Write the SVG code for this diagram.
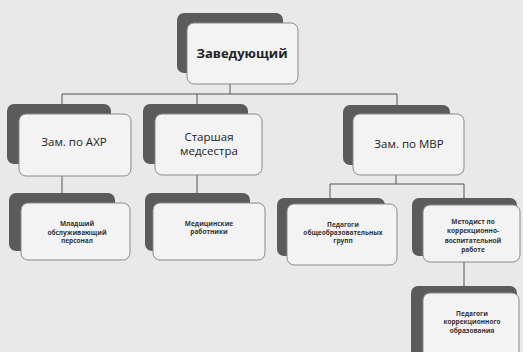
<svg xmlns="http://www.w3.org/2000/svg" width="523" height="352" viewBox="0 0 523 352">
<style>
.bg{fill:#e9e9e9}
.sh{fill:#5b5b5b}
.fr{fill:#f3f3f3;stroke:#8a8a8a;stroke-width:1}
.t{font-family:"Open Sans","Liberation Sans",sans-serif;fill:#222;text-anchor:middle}
.big{font-size:13px;font-weight:bold}
.mid{font-size:11.5px}
.sm{font-size:6.5px;font-weight:bold;fill:#333}
.cn{fill:none;stroke:#555;stroke-width:1}
</style>
<rect class="bg" x="0" y="0" width="523" height="352"/>
<g id="connectors">
<path class="cn" d="M230,84V94M62,94H397M62,94V104M197,94V104M397,94V105"/>
<path class="cn" d="M62,176V193M197,175V193"/>
<path class="cn" d="M396,175V184M330,184H464M330,184V198M464,184V198"/>
<path class="cn" d="M464,262V286"/>
</g>
<g id="n_head">
<rect class="sh" x="177" y="13" width="106" height="60" rx="7"/>
<rect class="fr" x="187" y="23" width="111" height="61" rx="7"/>
<text class="t big" x="242" y="58">Заведующий</text>
</g>
<g id="n_axp">
<rect class="sh" x="7" y="104" width="104" height="60" rx="7"/>
<rect class="fr" x="19" y="114" width="112" height="62" rx="7"/>
<text class="t mid" x="74" y="146">Зам. по АХР</text>
</g>
<g id="n_nurse">
<rect class="sh" x="143" y="104" width="105" height="60" rx="7"/>
<rect class="fr" x="155" y="114" width="107" height="61" rx="7"/>
<text class="t mid" x="209" y="141">Старшая</text>
<text class="t mid" x="209" y="154.5">медсестра</text>
</g>
<g id="n_mvr">
<rect class="sh" x="343" y="105" width="107" height="60" rx="7"/>
<rect class="fr" x="353" y="114" width="111" height="61" rx="7"/>
<text class="t mid" x="409" y="148">Зам. по  МВР</text>
</g>
<g id="n_junior">
<rect class="sh" x="9" y="193" width="106" height="58" rx="7"/>
<rect class="fr" x="21" y="203" width="109" height="57" rx="7"/>
<text class="t sm" x="77" y="226">Младший</text>
<text class="t sm" x="77" y="234.5">обслуживающий</text>
<text class="t sm" x="77" y="243">персонал</text>
</g>
<g id="n_medw">
<rect class="sh" x="145" y="193" width="105" height="58" rx="7"/>
<rect class="fr" x="153" y="203" width="112" height="57" rx="7"/>
<text class="t sm" x="209" y="225.5">Медицинские</text>
<text class="t sm" x="209" y="234">работники</text>
</g>
<g id="n_ped">
<rect class="sh" x="277" y="198" width="108" height="58" rx="7"/>
<rect class="fr" x="287" y="204" width="110" height="61" rx="7"/>
<text class="t sm" x="343" y="226.5">Педагоги</text>
<text class="t sm" x="343" y="234.5">общеобразовательных</text>
<text class="t sm" x="343" y="242.5">групп</text>
</g>
<g id="n_met">
<rect class="sh" x="412" y="198" width="105" height="58" rx="7"/>
<rect class="fr" x="423" y="205" width="97" height="57" rx="7"/>
<text class="t sm" x="473" y="223.5">Методист по</text>
<text class="t sm" x="473" y="233">коррекционно-</text>
<text class="t sm" x="473" y="242.5">воспитательной</text>
<text class="t sm" x="473" y="252">работе</text>
</g>
<g id="n_pedk">
<rect class="sh" x="411" y="286" width="106" height="72" rx="7"/>
<rect class="fr" x="423" y="293" width="96" height="66" rx="7"/>
<text class="t sm" x="472" y="315.5">Педагоги</text>
<text class="t sm" x="472" y="324">коррекционного</text>
<text class="t sm" x="472" y="332.5">образования</text>
</g>
</svg>
